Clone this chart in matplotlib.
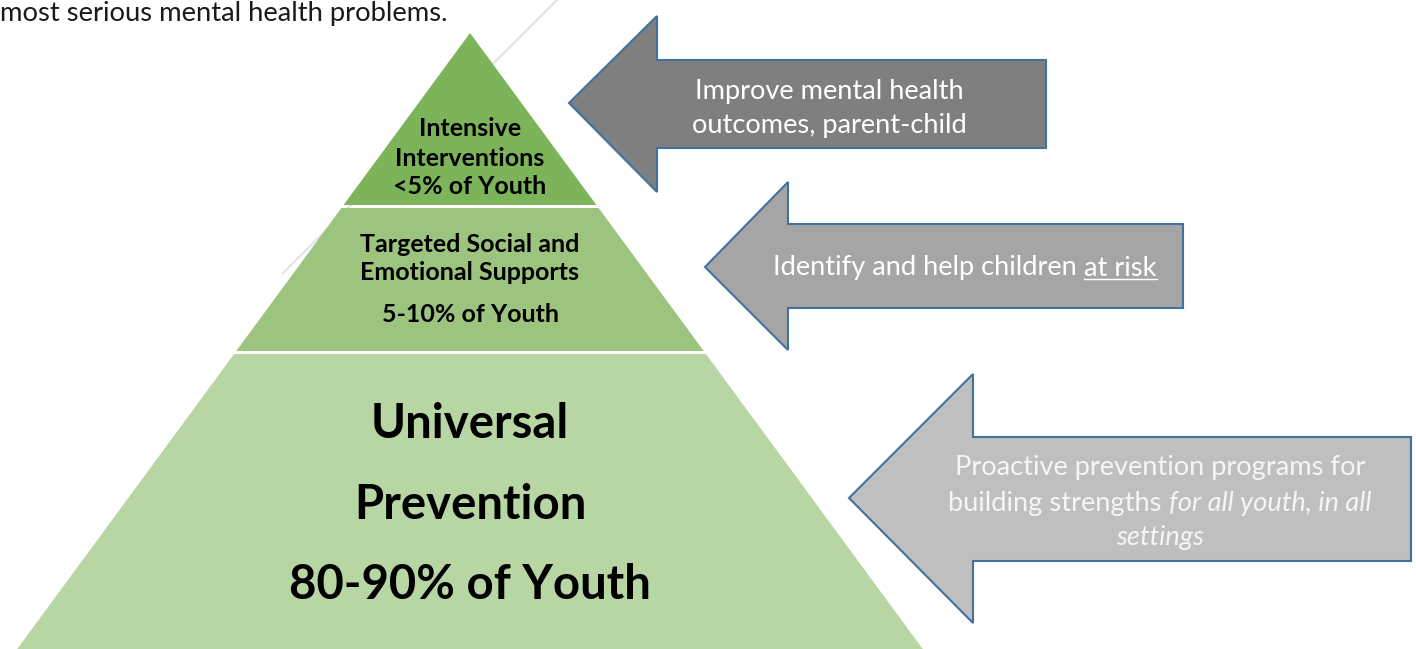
import matplotlib.pyplot as plt
from matplotlib.patches import Polygon

plt.rcParams['font.family'] = ['Lato', 'DejaVu Sans']

# text / content
intro = "most serious mental health problems."
tier_lines = [["Intensive", "Interventions", "<5% of Youth"],
              ["Targeted Social and", "Emotional Supports", "5-10% of Youth"],
              ["Universal", "Prevention", "80-90% of Youth"]]
tier_colors = ["#7db45a", "#9cc47f", "#b8d6a3"]
arrow_colors = ["#7f7f7f", "#a5a5a5", "#bfbfbf"]
# each arrow: list of lines, each line a list of (text, style) runs
arrow_text = [
    [[("Improve mental health", "")], [("outcomes, parent-child", "")]],
    [[("Identify and help children", ""), ("at risk", "u")]],
    [[("Proactive prevention programs for", "")],
     [("building strengths", ""), ("for all youth, in all", "i")],
     [("settings", "i")]],
]

W, H = 1416, 649
fig = plt.figure(figsize=(W / 100, H / 100), dpi=100)
ax = fig.add_axes([0, 0, 1, 1])
ax.set_xlim(0, W)
ax.set_ylim(H, 0)
ax.axis('off')

# faint slide line behind the pyramid
ax.plot([557, 283], [0, 273], color="#e3e3e3", lw=1.5, zorder=0)

ax.text(0, 14, intro, fontsize=19.7, va='center', ha='left', color="#1a1a1a")

# pyramid
apex_x, apex_y, slope = 470, 33, 0.735
bands = [(apex_y, 205), (208, 351), (354, H)]
for (y0, y1), c in zip(bands, tier_colors):
    h0 = (y0 - apex_y) * slope
    h1 = (y1 - apex_y) * slope
    pts = [(apex_x - h0, y0), (apex_x + h0, y0), (apex_x + h1, y1), (apex_x - h1, y1)]
    ax.add_patch(Polygon(pts, closed=True, facecolor=c, edgecolor='none', zorder=1))

tier_y = [[129, 158, 187], [244, 272, 314], [424, 505, 585]]
tier_size = [18, 18, 34]
for lines, ys, fs in zip(tier_lines, tier_y, tier_size):
    for s, y in zip(lines, ys):
        ax.text(apex_x, y, s, fontsize=fs, fontweight='bold', ha='center', va='center', zorder=3)

# arrows: tip x, tip y, head x, head top, head bottom, shaft top, shaft bottom, right
shapes = [(569, 103, 657, 16, 192, 60, 148, 1046),
          (705, 267, 788, 182, 350, 224, 308, 1183),
          (849, 498, 973, 374, 623, 437, 561, 1411)]
for (tx, ty, hx, ht, hb, st, sb, rx), c in zip(shapes, arrow_colors):
    pts = [(tx, ty), (hx, ht), (hx, st), (rx, st), (rx, sb), (hx, sb), (hx, hb)]
    ax.add_patch(Polygon(pts, closed=True, facecolor=c, edgecolor="#41719c", lw=1.5, zorder=2))

r = fig.canvas.get_renderer()


def width(t):
    return t.get_window_extent(r).width


def draw_line(cx, y, runs, fs, color):
    objs = []
    for s, st in runs:
        t = ax.text(0, y, s, fontsize=fs, ha='left', va='center', color=color,
                    fontstyle='italic' if st == 'i' else 'normal', zorder=4)
        objs.append((t, st))
    a = ax.text(0, y, "a a", fontsize=fs)
    b = ax.text(0, y, "aa", fontsize=fs)
    gap = width(a) - width(b)
    a.remove()
    b.remove()
    ws = [width(t) for t, _ in objs]
    x = cx - (sum(ws) + gap * (len(ws) - 1)) / 2
    for (t, st), w in zip(objs, ws):
        t.set_x(x)
        if st == 'u':
            ax.plot([x, x + w], [y + fs * 0.55, y + fs * 0.55], color=color, lw=1, zorder=4)
        x += w + gap


arrow_cx = [829, 965, 1160]
arrow_y = [[91, 126], [268], [467, 503, 537]]
arrow_fc = ["white", "white", "#f5f5f5"]
for lines, cx, ys, col in zip(arrow_text, arrow_cx, arrow_y, arrow_fc):
    for runs, y in zip(lines, ys):
        draw_line(cx, y, runs, 19.6, col)

fig.savefig("out.png", dpi=100)
